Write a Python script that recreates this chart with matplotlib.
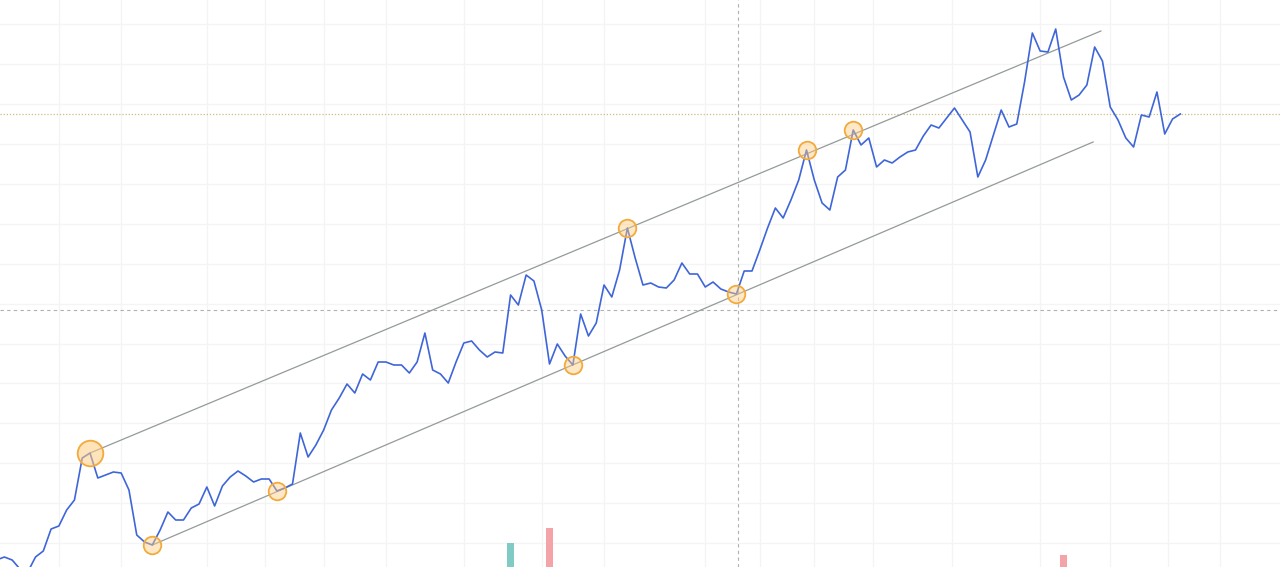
import numpy as np
import matplotlib
matplotlib.use("Agg")
import matplotlib.pyplot as plt

# ── price series (arbitrary units, one value per bar) ─────────────────────
close = [
    7, 10, 7, -2, -5, 10, 16, 38, 41, 57,
    67, 109, 114, 89, 92, 95, 94, 77, 32, 25,
    22, 37, 55, 47, 47, 59, 63, 80, 61, 81,
    90, 96, 91, 85, 88, 88, 76, 79, 83, 134,
    110, 122, 137, 157, 169, 183, 174, 193, 187, 205,
    205, 202, 202, 194, 205, 234, 197, 193, 184, 205,
    224, 226, 217, 210, 215, 214, 272, 262, 292, 286,
    257, 203, 223, 211, 202, 253, 231, 244, 282, 270,
    297, 339, 309, 282, 284, 280, 279, 287, 304, 293,
    293, 280, 285, 278, 275, 273, 296, 296, 317, 339,
    359, 349, 367, 387, 417, 387, 364, 357, 390, 397,
    437, 422, 429, 400, 407, 404, 410, 415, 417, 431,
    442, 439, 449, 459, 447, 435, 390, 407, 432, 457,
    440, 443, 485, 534, 516, 515, 538, 490, 467, 472,
    482, 520, 506, 460, 447, 429, 420, 452, 450, 475,
    433, 448, 453,
]

# pivot points marked with circles (bar index)
pivots_small = [20, 36, 74, 81, 95, 104, 110]
pivot_big = 12

# channel anchors: (start index, start value, end index, end value)
upper_chan = (12, 114, 141.8, 536)
lower_chan = (20, 22, 140.8, 425)

# volume bars that poke up from the bottom
vol_idx = [66, 71, 137]
vol_val = [24, 39, 12]
vol_col = ["#80cbc4", "#f4a3a8", "#f4a3a8"]

# date grid positions (bar index) and crosshair
date_grid = [8, 16, 27, 34.5, 42, 50, 60, 70, 78, 91, 98, 105, 112.6, 122.7, 134, 143, 150.4, 157.1]
cross_x = 95.2
cross_y = 257

x = np.arange(len(close))

fig = plt.figure(figsize=(12.8, 5.67), dpi=100)
ax = fig.add_axes([0, 0, 1, 1])
ax.set_facecolor("white")
ax.set_xlim(0.44, 164.8)
ax.set_ylim(0, 567)

# faint grid
for g in date_grid:
    ax.axvline(g, color="#f4f4f4", lw=0.9, zorder=0)
for g in np.arange(24, 567, 39.9):
    ax.axhline(g, color="#f4f4f4", lw=0.9, zorder=0)

# volume
ax.bar(vol_idx, vol_val, width=0.8, color=vol_col, zorder=1)

# crosshair + last price line
ax.axvline(cross_x, color="#b0b0b0", lw=0.8, ls=(0, (3, 3)), zorder=1)
ax.axhline(cross_y, color="#b0b0b0", lw=0.8, ls=(0, (3, 3)), zorder=1)
ax.axhline(close[-1], color="#cdbd80", lw=0.9, ls=(0, (1, 1.5)), zorder=1)

# channel
for x0, y0, x1, y1 in (upper_chan, lower_chan):
    ax.plot([x0, x1], [y0, y1], color="#949a9a", lw=0.9, zorder=2)

ax.plot(x, close, color="#3f66d9", lw=1.2, zorder=3)

ps = np.array(pivots_small)
ax.scatter(ps, np.array(close)[ps], s=160, facecolor=(1.0, 0.80, 0.50, 0.45),
           edgecolor="#f2aa3c", lw=1.3, zorder=4)
ax.scatter([pivot_big], [close[pivot_big]], s=340, facecolor=(1.0, 0.80, 0.50, 0.55),
           edgecolor="#f2aa3c", lw=1.3, zorder=4)

ax.set_xticks([])
ax.set_yticks([])
for s in ax.spines.values():
    s.set_visible(False)

fig.savefig("out.png", dpi=100)
